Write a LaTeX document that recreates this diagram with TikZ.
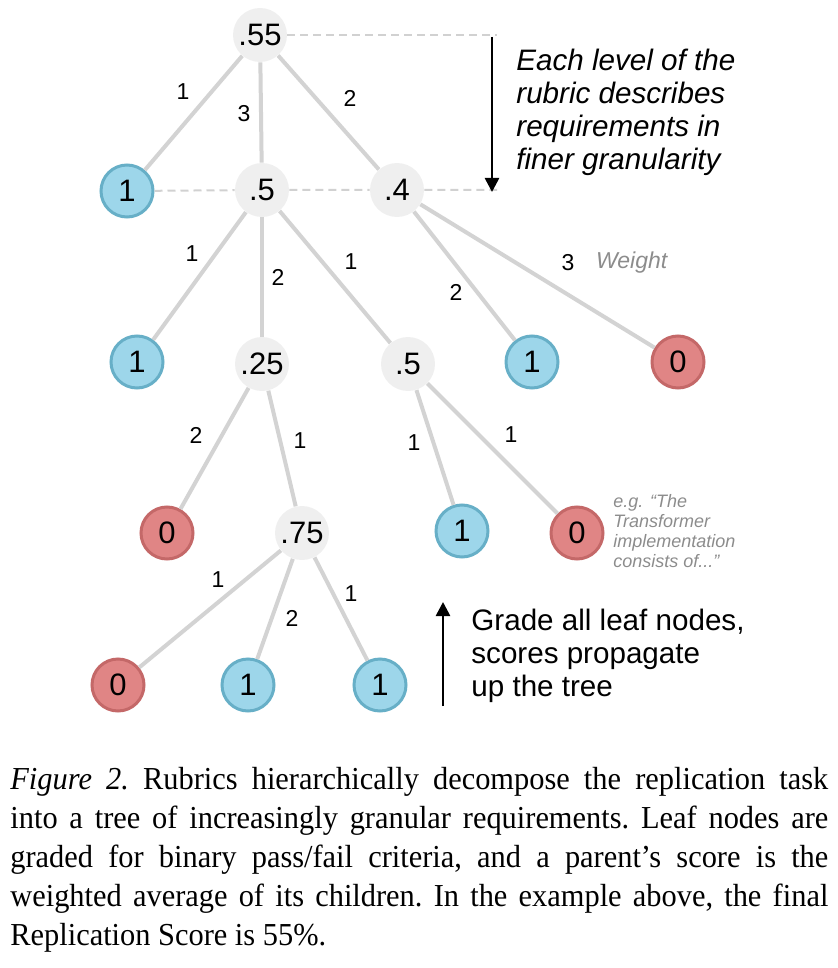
\documentclass[tikz,border=0pt]{standalone}
\usepackage{fontspec}
\setmainfont{Liberation Serif}
\setsansfont{Liberation Sans}
\usetikzlibrary{arrows.meta}

\definecolor{nodegray}{HTML}{EFEFEF}
\definecolor{passfill}{HTML}{9DD6EA}
\definecolor{passline}{HTML}{67AFC7}
\definecolor{failfill}{HTML}{E08585}
\definecolor{failline}{HTML}{C46868}
\definecolor{edgegray}{HTML}{D3D3D3}
\definecolor{notegray}{HTML}{8C8C8C}

\begin{document}
\begin{tikzpicture}[x=0.5pt,y=-0.5pt,font=\sffamily,
    score/.style={circle,fill=nodegray,minimum size=27pt,inner sep=0pt,
      font=\sffamily\fontsize{15.5}{18}\selectfont},
    pass/.style={score,minimum size=26pt,fill=passfill,draw=passline,line width=1.5pt},
    fail/.style={score,minimum size=26pt,fill=failfill,draw=failline,line width=1.5pt},
    wt/.style={font=\sffamily\fontsize{11.5}{13}\selectfont},
    arj/.style={draw=edgegray,line width=2pt},
    lvl/.style={draw=black!18,line width=1pt,dash pattern=on 4pt off 2.5pt},
    arb/.style={line width=1.3pt,-{Triangle[width=7pt,length=7pt]}},
    note/.style={align=left,anchor=west,inner sep=0pt,
      font=\sffamily\fontsize{14.8}{16.5}\selectfont}]
  \useasboundingbox (0,0) rectangle (837,968);

  % level 0 and 1
  \node(root)[score] at (260,35) {.55};
  \node(leaf1)[pass] at (127,191) {1};
  \node(mid)[score] at (262,190) {.5};
  \node(right)[score] at (397,190) {.4};
  \coordinate (lvl top) at (497,35);
  \coordinate (lvl one) at (497,190);
  \draw[lvl] (root) -- (lvl top);
  \draw[lvl] (leaf1) -- (mid) -- (right) -- (lvl one);
  \draw[arj] (root) -- (leaf1);
  \draw[arj] (root) -- (mid);
  \draw[arj] (root) -- (right);
  \node(w root a)[wt] at (183,92) {1};
  \node(w root b)[wt] at (244,114) {3};
  \node(w root c)[wt] at (350,98) {2};

  % level 2
  \node(leaf2)[pass] at (137,362) {1};
  \node(quarter)[score] at (262,364) {.25};
  \node(half)[score] at (408,364) {.5};
  \node(leaf3)[pass] at (532,362) {1};
  \node(fail1)[fail] at (678,362) {0};
  \draw[arj] (mid) -- (leaf2);
  \draw[arj] (mid) -- (quarter);
  \draw[arj] (mid) -- (half);
  \draw[arj] (right) -- (leaf3);
  \draw[arj] (right) -- (fail1);
  \node(w mid a)[wt] at (192,254) {1};
  \node(w mid b)[wt] at (278,277) {2};
  \node(w mid c)[wt] at (351,262) {1};
  \node(w right a)[wt] at (456,292) {2};
  \node(w right b)[wt] at (568,263) {3};
  \node(weight)[wt,text=notegray,anchor=west] at (589,263) {\itshape Weight};

  % level 3
  \node(fail2)[fail] at (167,533) {0};
  \node(three q)[score] at (302,533) {.75};
  \node(leaf4)[pass] at (462,531) {1};
  \node(fail3)[fail] at (577,533) {0};
  \draw[arj] (quarter) -- (fail2);
  \draw[arj] (quarter) -- (three q);
  \draw[arj] (half) -- (leaf4);
  \draw[arj] (half) -- (fail3);
  \node(w q a)[wt] at (196,435) {2};
  \node(w q b)[wt] at (300,441) {1};
  \node(w h a)[wt] at (414,443) {1};
  \node(w h b)[wt] at (511,435) {1};
  \node(example)[note,text=notegray,font=\sffamily\itshape\fontsize{9}{10}\selectfont]
    at (613,531) {e.g. “The\\Transformer\\implementation\\consists of...”};

  % level 4
  \node(fail4)[fail] at (118,685) {0};
  \node(leaf5)[pass] at (248,685) {1};
  \node(leaf6)[pass] at (380,685) {1};
  \draw[arj] (three q) -- (fail4);
  \draw[arj] (three q) -- (leaf5);
  \draw[arj] (three q) -- (leaf6);
  \node(w tq a)[wt] at (218,580) {1};
  \node(w tq b)[wt] at (292,618) {2};
  \node(w tq c)[wt] at (351,594) {1};

  % side notes
  \coordinate (down start) at (492,37);
  \coordinate (down end) at (492,192);
  \draw[arb] (down start) -- (down end);
  \node(levels)[note] at (516,112)
    {\itshape Each level of the\\\itshape rubric describes\\\itshape requirements in\\\itshape finer granularity};
  \coordinate (up start) at (443,706);
  \coordinate (up end) at (443,602);
  \draw[arb] (up start) -- (up end);
  \node(grade)[note] at (471,656) {Grade all leaf nodes,\\scores propagate\\up the tree};

  % caption
  \node(caption)[anchor=base west,inner sep=0pt] at (10,789)
    {\scalebox{0.95}[1]{\parbox[t]{430.5pt}{\rmfamily\frenchspacing\fontsize{16}{19.5}\selectfont
      \textit{Figure 2.} Rubrics hierarchically decompose the replication task\linebreak
      into a tree of increasingly granular requirements. Leaf nodes are\linebreak
      graded for binary pass/fail criteria, and a parent’s score is the\linebreak
      weighted average of its children. In the example above, the final\linebreak
      Replication Score is 55\%.}}};
\end{tikzpicture}
\end{document}
